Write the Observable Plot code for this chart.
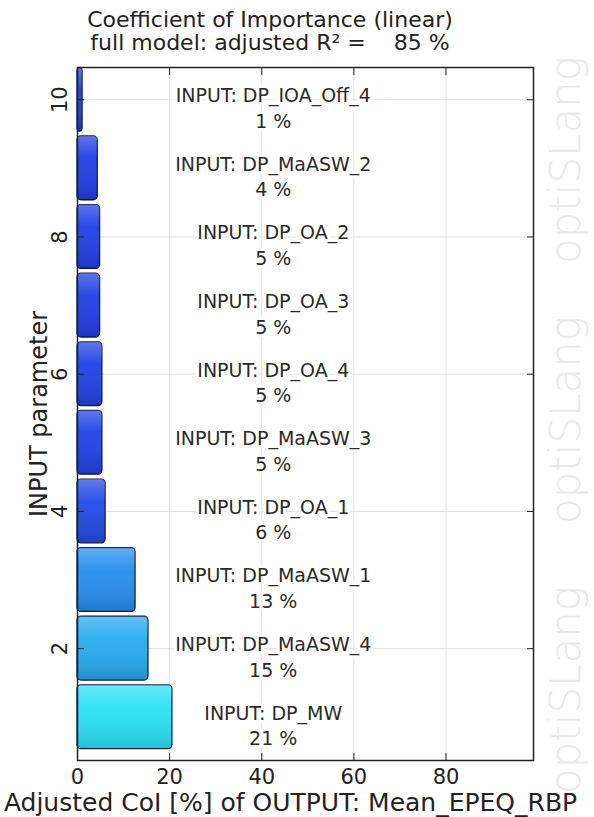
<!DOCTYPE html>
<html>
<head>
<meta charset="utf-8">
<script src="https://cdn.jsdelivr.net/npm/d3@7"></script>
<script src="https://cdn.jsdelivr.net/npm/@observablehq/plot@0.6"></script>
<style>
  body { margin: 0; background: #fff; width: 594px; height: 817px; overflow: hidden; position: relative;
         font-family: "DejaVu Sans", Verdana, sans-serif; color: #222; }
  #title { position: absolute; left: 0; top: 0; width: 540px; text-align: center; font-size: 22px;
           line-height: 23px; padding-top: 8px; white-space: pre; color: #222; }
  #chart { position: absolute; left: 0; top: 60px; }
  .wm { position: absolute; left: 566px; transform: translate(-50%, -50%) rotate(-90deg);
        font-family: "DejaVu Sans", sans-serif; font-weight: 200; font-size: 42px; color: #e9e9e9;
        white-space: nowrap; line-height: 42px; }
</style>
</head>
<body>
<div id="title">Coefficient of Importance (linear)
full model: adjusted R² =    85 %</div>
<div class="wm" style="top:160px">optiSLang</div>
<div class="wm" style="top:420px">optiSLang</div>
<div class="wm" style="top:690px">optiSLang</div>
<div id="chart"></div>
<script>
// ---- data ----
const ranks = [1, 2, 3, 4, 5, 6, 7, 8, 9, 10];
const params = ["DP_MW", "DP_MaASW_4", "DP_MaASW_1", "DP_OA_1", "DP_MaASW_3",
                "DP_OA_4", "DP_OA_3", "DP_OA_2", "DP_MaASW_2", "DP_IOA_Off_4"];
const coi = [20.6, 15.4, 12.6, 6.1, 5.4, 5.4, 4.9, 4.9, 4.4, 1.1];
const xTicks = [0, 20, 40, 60, 80];
const xInnerTicks = [20, 40, 60, 80];
const yTicks = [2, 4, 6, 8, 10];
const xLabel = "Adjusted CoI [%] of OUTPUT: Mean_EPEQ_RBP";
const yLabel = "INPUT parameter";
const labelX = 42.5;

const data = ranks.map((r, i) => ({rank: r, param: params[i], coi: coi[i]}));

const svgns = "http://www.w3.org/2000/svg";
const defsMark = () => {
  const defs = document.createElementNS(svgns, "defs");
  defs.innerHTML = `<linearGradient id="shade" x1="0" x2="0" y1="0" y2="1">
      <stop offset="0" stop-color="white" stop-opacity="0.28"/>
      <stop offset="0.35" stop-color="white" stop-opacity="0.05"/>
      <stop offset="1" stop-color="black" stop-opacity="0.15"/>
    </linearGradient>`;
  return defs;
};

const half = 0.465;

const chart = Plot.plot({
  width: 594,
  height: 757,
  marginTop: 7,
  marginBottom: 57,
  marginLeft: 77,
  marginRight: 61,
  style: {fontFamily: "DejaVu Sans, Verdana, sans-serif", color: "#222", background: "transparent"},
  x: {domain: [0, 99]},
  y: {domain: [0.37, 10.47]},
  color: {type: "linear", domain: [5, 21], range: ["#1f3ee6", "#2ae6f6"], clamp: true},
  marks: [
    defsMark,
    Plot.gridX(xInnerTicks, {stroke: "#e2e2e2", strokeOpacity: 1}),
    Plot.gridY(yTicks, {stroke: "#e2e2e2", strokeOpacity: 1}),
    Plot.rectX(data, {x1: 0, x2: "coi", y1: d => d.rank - half, y2: d => d.rank + half,
                      fill: "coi", stroke: "#101a4a", strokeWidth: 1.3, rx: 4}),
    Plot.rectX(data, {x1: 0, x2: "coi", y1: d => d.rank - half, y2: d => d.rank + half,
                      fill: "url(#shade)", rx: 4}),
    Plot.text(data, {x: () => labelX, y: "rank",
                     text: d => `INPUT: ${d.param}\n${Math.round(d.coi)} %`,
                     fontSize: 19, lineHeight: 1.35, dy: 7, fill: "#2a2a2a",
                     stroke: "white", strokeWidth: 6}),
    Plot.frame({stroke: "#222", strokeWidth: 1.5}),
    // inward ticks
    Plot.axisX(xInnerTicks, {anchor: "bottom", tickSize: 7, dy: -7, tickFormat: () => "", label: null, stroke: "#222"}),
    Plot.axisX(xInnerTicks, {anchor: "top", tickSize: 7, dy: 7, tickFormat: () => "", label: null, stroke: "#222"}),
    Plot.axisY(yTicks, {anchor: "left", tickSize: 7, dx: 7, tickFormat: () => "", label: null, stroke: "#222"}),
    Plot.axisY(yTicks, {anchor: "right", tickSize: 7, dx: -7, tickFormat: () => "", label: null, stroke: "#222"}),
    // tick labels
    Plot.axisX(xTicks, {anchor: "bottom", tickSize: 0, tickPadding: 9, fontSize: 21, tickFormat: "d", label: null, fill: "#222"}),
    Plot.axisY(yTicks, {anchor: "left", tickSize: 0, tickPadding: 11, tickRotate: -90, fontSize: 21, tickFormat: "d", label: null, fill: "#222"}),
    // axis labels
    Plot.text([xLabel], {frameAnchor: "bottom", dy: 42, dx: -15, fontSize: 25, textAnchor: "middle", lineAnchor: "middle", fill: "#222"}),
    Plot.text([yLabel], {frameAnchor: "left", dx: -38, rotate: -90, fontSize: 24, textAnchor: "middle", lineAnchor: "middle", fill: "#222"})
  ]
});
document.getElementById("chart").appendChild(chart);
</script>
</body>
</html>
